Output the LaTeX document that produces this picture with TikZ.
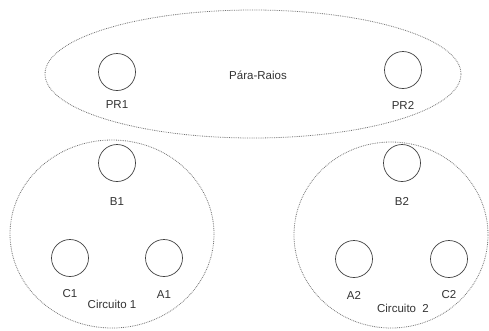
\documentclass[tikz,border=0pt]{standalone}
\usepackage{fontspec}
\setmainfont{Liberation Sans}
\begin{document}
\begin{tikzpicture}[x=1pt,y=-1pt,
  group/.style={draw=black!55, densely dotted, line width=0.8pt},
  port/.style={circle, draw=black!75, line width=0.7pt, minimum size=37pt, inner sep=0pt},
  lbl/.style={font=\fontsize{11.5}{13}\selectfont, text=black!80, inner sep=0pt}]
\useasboundingbox (0,0) rectangle (489,330);
\draw[group] (253,74) ellipse [x radius=208, y radius=64];
\draw[group] (112,234) ellipse [x radius=102, y radius=94];
\draw[group] (391,235) ellipse [x radius=97, y radius=93];
\node[lbl] (pr) at (258,75) {Pára-Raios};
\node[port] (PR1) at (117,72) {};
\node[lbl] (PR1l) at (117,105) {PR1};
\node[port] (PR2) at (403,70) {};
\node[lbl] (PR2l) at (403,105) {PR2};
\node[port] (B1) at (117,163) {};
\node[lbl] (B1l) at (117,202) {B1};
\node[port] (C1) at (70,258) {};
\node[lbl] (C1l) at (70,294) {C1};
\node[port] (A1) at (164,258) {};
\node[lbl] (A1l) at (164,295) {A1};
\node[lbl] (c1) at (112,304) {Circuito 1};
\node[port] (B2) at (402,163) {};
\node[lbl] (B2l) at (402,201) {B2};
\node[port] (A2) at (354,259) {};
\node[lbl] (A2l) at (354,295) {A2};
\node[port] (C2) at (449,259) {};
\node[lbl] (C2l) at (449,295) {C2};
\node[lbl] (c2) at (403,308) {Circuito\ \ 2};
\end{tikzpicture}
\end{document}
